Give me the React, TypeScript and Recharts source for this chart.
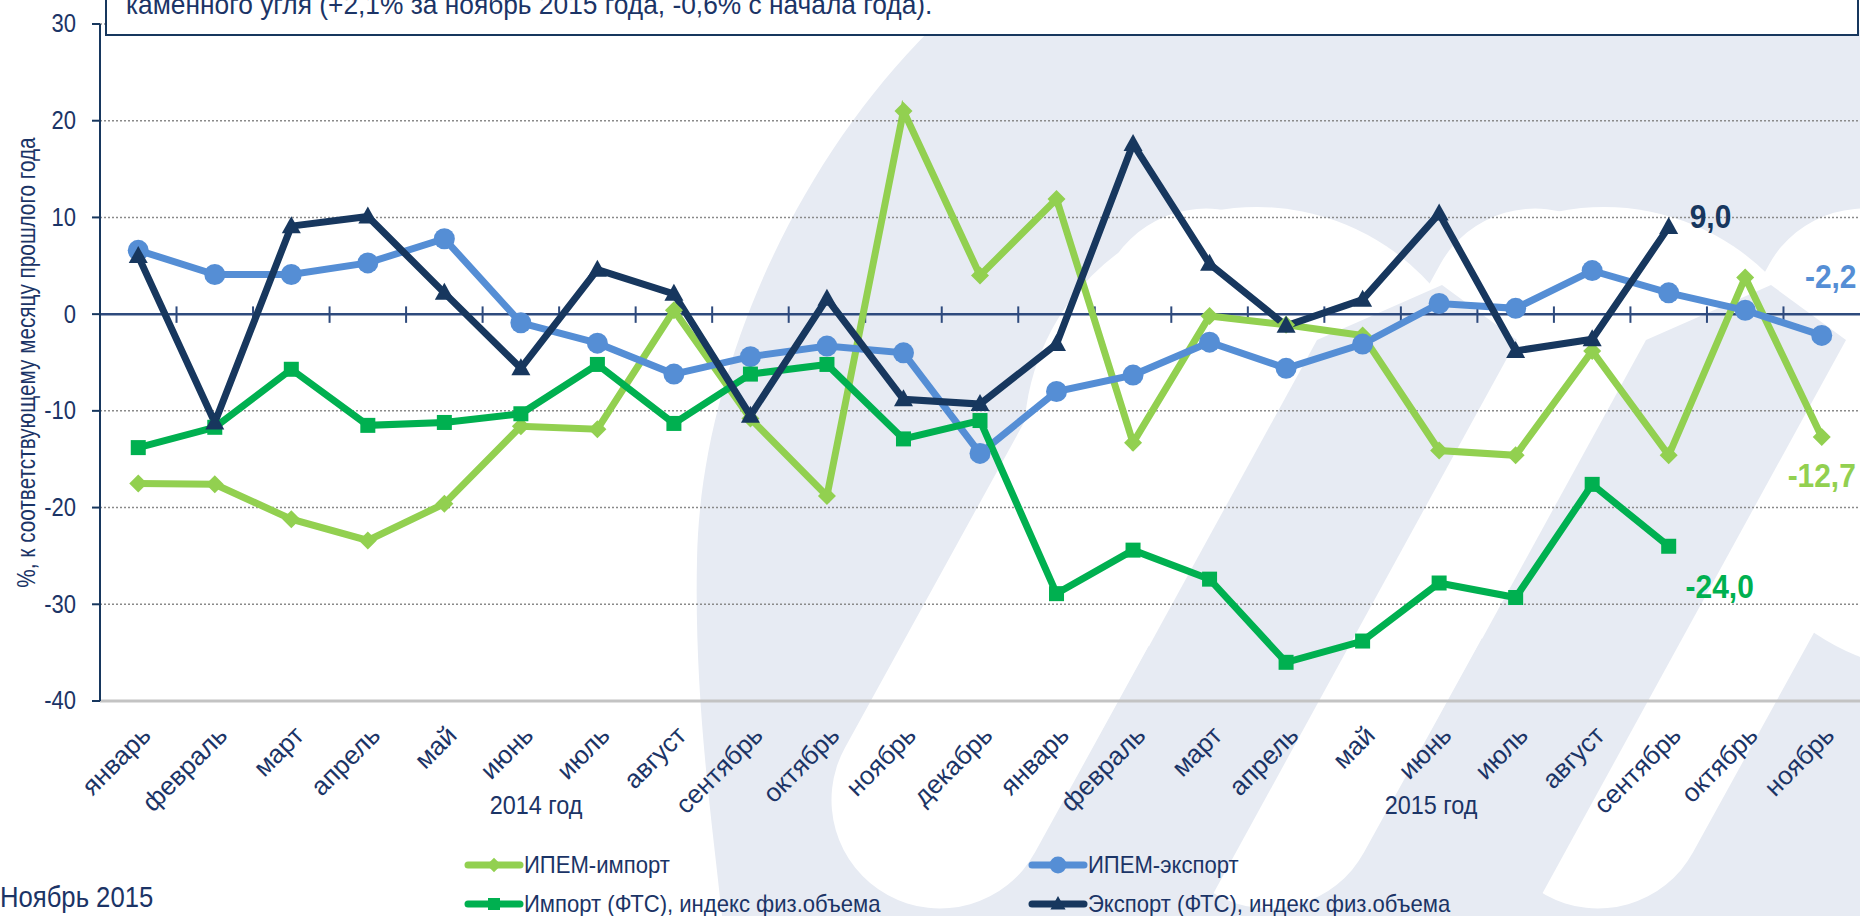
import { LineChart, Line, XAxis, YAxis, CartesianGrid, ReferenceLine, LabelList } from 'recharts';

// Месяцы 2014 (янв-дек) и 2015 (янв-ноя)
const MONTHS = [
  'январь', 'февраль', 'март', 'апрель', 'май', 'июнь', 'июль', 'август', 'сентябрь', 'октябрь', 'ноябрь', 'декабрь',
  'январь', 'февраль', 'март', 'апрель', 'май', 'июнь', 'июль', 'август', 'сентябрь', 'октябрь', 'ноябрь'
];

// % к соответствующему месяцу прошлого года
const IPEM_IMPORT = [-17.5, -17.6, -21.2, -23.4, -19.6, -11.6, -11.9, 0.4, -10.8, -18.8, 21.0, 4.0, 11.9, -13.3, -0.2, -1.1, -2.2, -14.1, -14.6, -3.8, -14.6, 3.8, -12.7];
const IPEM_EXPORT = [6.6, 4.1, 4.1, 5.3, 7.8, -0.9, -3.0, -6.2, -4.4, -3.3, -4.0, -14.4, -8.0, -6.3, -2.9, -5.6, -3.1, 1.1, 0.6, 4.5, 2.2, 0.4, -2.2];
const IMPORT_FTS = [-13.8, -11.7, -5.7, -11.5, -11.2, -10.3, -5.2, -11.3, -6.2, -5.2, -12.9, -11.0, -28.9, -24.4, -27.4, -36.0, -33.8, -27.8, -29.3, -17.6, -24.0, null, null];
const EXPORT_FTS = [6.0, -11.2, 9.1, 10.1, 2.2, -5.6, 4.6, 2.1, -10.5, 1.6, -8.8, -9.3, -3.1, 17.6, 5.2, -1.2, 1.5, 10.4, -3.8, -2.6, 9.0, null, null];

const Y_TICKS = [-40, -30, -20, -10, 0, 10, 20, 30];
const X_TICKS = MONTHS.map((_, i) => i);
const BOUNDARIES = MONTHS.slice(1).map((_, i) => i + 0.5);

const data = MONTHS.map((month, i) => ({
  idx: i,
  month,
  ipemImport: IPEM_IMPORT[i],
  ipemExport: IPEM_EXPORT[i],
  importFts: IMPORT_FTS[i],
  exportFts: EXPORT_FTS[i],
}));

// узкого шрифта нет — сжимаем Liberation Sans по горизонтали
const FONT = '"Liberation Sans", Arial, sans-serif';
const TEXT = '#1b3466';
const NAVY = '#17375e';
const WM = '#e7ebf3';

const SERIES = [
  { key: 'ipemImport', name: 'ИПЕМ-импорт', color: '#92d050', marker: 'diamond' },
  { key: 'ipemExport', name: 'ИПЕМ-экспорт', color: '#558ed5', marker: 'circle' },
  { key: 'importFts', name: 'Импорт (ФТС), индекс физ.объема', color: '#00b050', marker: 'square' },
  { key: 'exportFts', name: 'Экспорт (ФТС), индекс физ.объема', color: NAVY, marker: 'triangle' },
];

const fmt = (v: number) => v.toFixed(1).replace('.', ',');
const squeeze = (x: number, y: number, k: number) => `translate(${x} ${y}) scale(${k} 1) translate(${-x} ${-y})`;

const markerShape = (marker: string, color: string, cx: number, cy: number, s = 1, key?: string) => {
  switch (marker) {
    case 'diamond':
      return <polygon key={key} points={`${cx},${cy - 9 * s} ${cx + 9 * s},${cy} ${cx},${cy + 9 * s} ${cx - 9 * s},${cy}`} fill={color} />;
    case 'circle':
      return <circle key={key} cx={cx} cy={cy} r={10.5 * s} fill={color} />;
    case 'square':
      return <rect key={key} x={cx - 7.5 * s} y={cy - 7.5 * s} width={15 * s} height={15 * s} fill={color} />;
    default:
      return <polygon key={key} points={`${cx},${cy - 10 * s} ${cx + 9.5 * s},${cy + 7 * s} ${cx - 9.5 * s},${cy + 7 * s}`} fill={color} />;
  }
};

const dotRenderer = (marker: string, color: string) => (props: any) => {
  const { cx, cy, index } = props;
  if (cx == null || cy == null || Number.isNaN(cy)) return <g key={`e-${index}`} />;
  return markerShape(marker, color, cx, cy, 1, `m-${index}`);
};

// подпись последнего значения ряда
const endLabel = (series: (number | null)[], dx: number, dy: number, color: string, anchor: 'start' | 'middle') => {
  let last = series.length - 1;
  while (series[last] == null) last--;
  return (props: any) => {
    if (props.index !== undefined ? props.index !== last : props.value !== series[last]) return null;
    const px = (props.viewBox?.x ?? props.x) + dx;
    const py = (props.viewBox?.y ?? props.y) + dy;
    return (
      <text x={px} y={py} transform={squeeze(px, py, 0.88)} fill={color} fontFamily={FONT} fontWeight="bold" fontSize={34} textAnchor={anchor}>
        {fmt(Number(props.value))}
      </text>
    );
  };
};

const MonthTick = ({ x, y, payload }: any) => (
  <g transform={`translate(${x},${y})`}>
    <text transform="translate(14,36) rotate(-45)" textAnchor="end" fill={TEXT} fontFamily={FONT} fontSize={26}>
      {MONTHS[payload.value]}
    </text>
  </g>
);

const ValueTick = ({ x, y, payload }: any) => (
  <text x={x} y={y} transform={squeeze(x, y, 0.88)} textAnchor="end" dominantBaseline="central" fill={TEXT} fontFamily={FONT} fontSize={25}>
    {payload.value}
  </text>
);

const YLabel = ({ viewBox }: any) => {
  const cx = 26;
  const cy = viewBox ? viewBox.y + viewBox.height / 2 : 362;
  return (
    <text transform={`translate(${cx} ${cy}) rotate(-90) scale(0.83 1)`} textAnchor="middle" dominantBaseline="central" fill={TEXT} fontFamily={FONT} fontSize={25}>
      %, к соответствующему месяцу прошлого года
    </text>
  );
};

const Watermark = () => (
  <svg width={1860} height={916} style={{ position: 'absolute', left: 0, top: 0 }}>
    <path d="M 930 30 C 790 170 700 380 697 560 C 694 700 712 820 722 916 L 1860 916 L 1860 30 Z" fill={WM} />
    <circle cx={1257} cy={440} r={233} fill="#fff" />
    <circle cx={1604} cy={440} r={233} fill="#fff" />
    <circle cx={1945} cy={440} r={233} fill="#fff" />
    <line x1={1206} y1={317} x2={940} y2={800} stroke="#fff" strokeWidth={217} strokeLinecap="round" />
    <line x1={1535} y1={317} x2={1269} y2={800} stroke="#fff" strokeWidth={217} strokeLinecap="round" />
    <line x1={1864} y1={317} x2={1598} y2={800} stroke="#fff" strokeWidth={217} strokeLinecap="round" />
    <polygon points="1442,285 1317,340 1001,916 1201,916 1517,340" fill={WM} />
    <polygon points="1771,285 1646,340 1330,916 1530,916 1846,340" fill={WM} />
  </svg>
);

const LegendItem = ({ s, left, top }: any) => (
  <div style={{ position: 'absolute', left, top, display: 'flex', alignItems: 'center', whiteSpace: 'nowrap' }}>
    <svg width={60} height={22}>
      <line x1={4} y1={11} x2={56} y2={11} stroke={s.color} strokeWidth={7} strokeLinecap="round" />
      {markerShape(s.marker, s.color, 30, 11, 0.8)}
    </svg>
    <span style={{ fontFamily: FONT, fontSize: 24, color: TEXT, lineHeight: '24px', display: 'inline-block', transform: 'scaleX(0.92)', transformOrigin: 'left center' }}>
      {s.name}
    </span>
  </div>
);

const App = () => {
  return (
    <div style={{ position: 'absolute', left: 0, top: 0, width: 1860, height: 916, overflow: 'hidden', background: '#fff' }}>
      <Watermark />

      <div style={{ position: 'absolute', left: 0, top: 0 }}>
        <LineChart width={1860} height={916} data={data} margin={{ top: 24, right: 0, bottom: 0, left: 0 }}>
          <CartesianGrid vertical={false} stroke="#8a8a8a" strokeDasharray="2 2" strokeWidth={1.5} />
          <XAxis
            dataKey="idx"
            type="number"
            domain={[-0.5, 22.5]}
            ticks={X_TICKS}
            interval={0}
            height={215}
            tickSize={0}
            tickMargin={0}
            tickLine={false}
            axisLine={{ stroke: '#c3c3c3', strokeWidth: 3 }}
            tick={<MonthTick />}
            allowDataOverflow
          />
          <YAxis
            type="number"
            domain={[-40, 30]}
            ticks={Y_TICKS}
            width={100}
            tickSize={8}
            tickMargin={16}
            axisLine={{ stroke: NAVY, strokeWidth: 2 }}
            tickLine={{ stroke: NAVY, strokeWidth: 2 }}
            tick={<ValueTick />}
            label={<YLabel />}
            allowDataOverflow
          />
          <ReferenceLine y={0} stroke="#2e4a7d" strokeWidth={2.5} />
          {BOUNDARIES.map((b) => (
            <ReferenceLine key={b} segment={[{ x: b, y: 0.8 }, { x: b, y: -0.9 }]} stroke="#2e4a7d" strokeWidth={2} ifOverflow="visible" />
          ))}

          <Line dataKey="ipemImport" name={SERIES[0].name} stroke={SERIES[0].color} strokeWidth={7} dot={dotRenderer('diamond', SERIES[0].color)} activeDot={false} isAnimationActive={false}>
            <LabelList dataKey="ipemImport" content={endLabel(IPEM_IMPORT, 0, 50, SERIES[0].color, 'middle')} />
          </Line>
          <Line dataKey="ipemExport" name={SERIES[1].name} stroke={SERIES[1].color} strokeWidth={7} dot={dotRenderer('circle', SERIES[1].color)} activeDot={false} isAnimationActive={false}>
            <LabelList dataKey="ipemExport" content={endLabel(IPEM_EXPORT, 9, -47, SERIES[1].color, 'middle')} />
          </Line>
          <Line dataKey="importFts" name={SERIES[2].name} stroke={SERIES[2].color} strokeWidth={7} dot={dotRenderer('square', SERIES[2].color)} activeDot={false} isAnimationActive={false}>
            <LabelList dataKey="importFts" content={endLabel(IMPORT_FTS, 51, 52, SERIES[2].color, 'middle')} />
          </Line>
          <Line dataKey="exportFts" name={SERIES[3].name} stroke={SERIES[3].color} strokeWidth={7} dot={dotRenderer('triangle', SERIES[3].color)} activeDot={false} isAnimationActive={false}>
            <LabelList dataKey="exportFts" content={endLabel(EXPORT_FTS, 21, 1, SERIES[3].color, 'start')} />
          </Line>
        </LineChart>
      </div>

      {/* рамка с текстом сверху (обрезана краем) */}
      <div style={{ position: 'absolute', left: 105, top: -30, width: 1754, height: 66, boxSizing: 'border-box', border: `2px solid ${NAVY}`, background: '#fff' }} />
      <div style={{ position: 'absolute', left: 126, top: -9, fontFamily: FONT, fontSize: 28, lineHeight: '28px', color: TEXT, whiteSpace: 'nowrap', transform: 'scaleX(0.94)', transformOrigin: 'left center' }}>
        каменного угля (+2,1% за ноябрь 2015 года, -0,6% с начала года).
      </div>

      <div style={{ position: 'absolute', left: 536, top: 790, transform: 'translateX(-50%) scaleX(0.9)', fontFamily: FONT, fontSize: 26, lineHeight: '30px', color: TEXT, whiteSpace: 'nowrap' }}>2014 год</div>
      <div style={{ position: 'absolute', left: 1431, top: 790, transform: 'translateX(-50%) scaleX(0.9)', fontFamily: FONT, fontSize: 26, lineHeight: '30px', color: TEXT, whiteSpace: 'nowrap' }}>2015 год</div>

      <LegendItem s={SERIES[0]} left={464} top={853} />
      <LegendItem s={SERIES[1]} left={1028} top={853} />
      <LegendItem s={SERIES[2]} left={464} top={892} />
      <LegendItem s={SERIES[3]} left={1028} top={892} />

      <div style={{ position: 'absolute', left: 0, top: 880, fontFamily: FONT, fontSize: 30, lineHeight: '34px', color: TEXT, whiteSpace: 'nowrap', transform: 'scaleX(0.855)', transformOrigin: 'left center' }}>
        Ноябрь 2015
      </div>
    </div>
  );
};

export default App;
